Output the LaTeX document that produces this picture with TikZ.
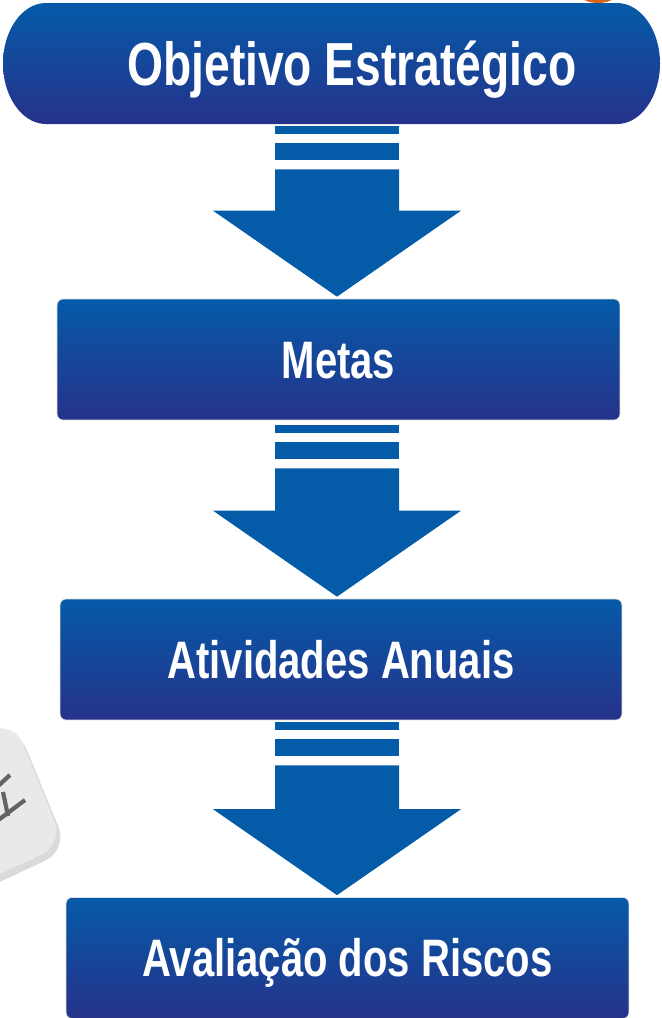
\documentclass[tikz,border=0pt]{standalone}
\usepackage{fontspec}
\newfontfamily\boxfont{Liberation Sans}[FakeStretch=0.76]
\usepackage{xcolor}
\usepackage{tikz}
\usetikzlibrary{positioning,calc}

\definecolor{boxtop}{RGB}{5,90,168}
\definecolor{boxbot}{RGB}{38,50,138}
\definecolor{arrowblue}{RGB}{4,92,168}
\definecolor{blobgray}{RGB}{233,233,233}
\definecolor{blobshade}{RGB}{218,218,218}
\definecolor{blobmark}{RGB}{100,100,100}
\definecolor{tagorange}{RGB}{217,101,26}

\begin{document}
\begin{tikzpicture}[x=0.02cm, y=-0.02cm,
    stepbox/.style={rectangle, rounded corners=0.12cm, top color=boxtop, bottom color=boxbot,
        draw=black!12, line width=0.4pt, minimum height=2.42cm},
    boxtext/.style={text=white, text height=21.5pt, text depth=0pt,
        font=\boxfont\bfseries\fontsize{30}{36}\selectfont},
    toptext/.style={text=white, text height=24.8pt, text depth=0pt,
        font=\boxfont\bfseries\fontsize{34.6}{42}\selectfont}]
    \useasboundingbox (0,0) rectangle (662,1018);

    % Background bits
    \fill[tagorange] (598,-12) ellipse [x radius=23, y radius=15];
    \fill[blobshade, rounded corners=0.5cm] (17,726) -- (68,850) -- (-58,909) -- (-108,785) -- cycle;
    \fill[blobgray, rounded corners=0.5cm] (13,720) -- (64,844) -- (-62,903) -- (-112,779) -- cycle;
    \draw[blobmark, line width=2.4pt] (10,775) -- (-3,787);
    \draw[blobmark, line width=2.4pt] (25,800) -- (-3,821);
    \draw[blobmark, line width=2.4pt] (3,792) -- (8,816);

    % Top box
    \shade[top color=boxtop, bottom color=boxbot]
        (46,3) -- (617,3) .. controls (640.7,3) and (660,30.1) .. (660,63.5)
        .. controls (660,96.9) and (640.7,124) .. (617,124) -- (46,124)
        .. controls (22.3,124) and (3,96.9) .. (3,63.5)
        .. controls (3,30.1) and (22.3,3) .. (46,3) -- cycle;
    \node[toptext, minimum width=13.14cm, minimum height=2.42cm] (obj) at (331.5,63.5)
        {\hspace*{0.82cm}Objetivo Estratégico};

    % Boxes
    \node[stepbox, boxtext, minimum width=11.26cm] (metas) at (338.5,359.5) {Metas};
    \node[stepbox, boxtext, minimum width=11.24cm] (ativ) at (341,659.5) {Atividades Anuais};
    \node[stepbox, boxtext, minimum width=11.26cm] (riscos) at (347.5,958) {Avaliação dos Riscos};

    % Block arrows
    \foreach \a/\b/\s in {obj/metas/2, metas/ativ/5, ativ/riscos/2}{
        \coordinate (top) at ($(337,0 |- \a.south)+(0,\s)$);
        \coordinate (tip) at ($(337,0 |- \b.north)+(0,-2)$);
        \fill[arrowblue] ($(top)+(-62,0)$) rectangle ($(top)+(62,8)$);
        \fill[arrowblue] ($(top)+(-62,17)$) rectangle ($(top)+(62,34)$);
        \fill[arrowblue] ($(top)+(-62,43)$) -- ($(top)+(62,43)$) -- ($(tip)+(62,-86)$)
            -- ($(tip)+(124,-86)$) -- (tip) -- ($(tip)+(-124,-86)$) -- ($(tip)+(-62,-86)$) -- cycle;
    }
\end{tikzpicture}
\end{document}
